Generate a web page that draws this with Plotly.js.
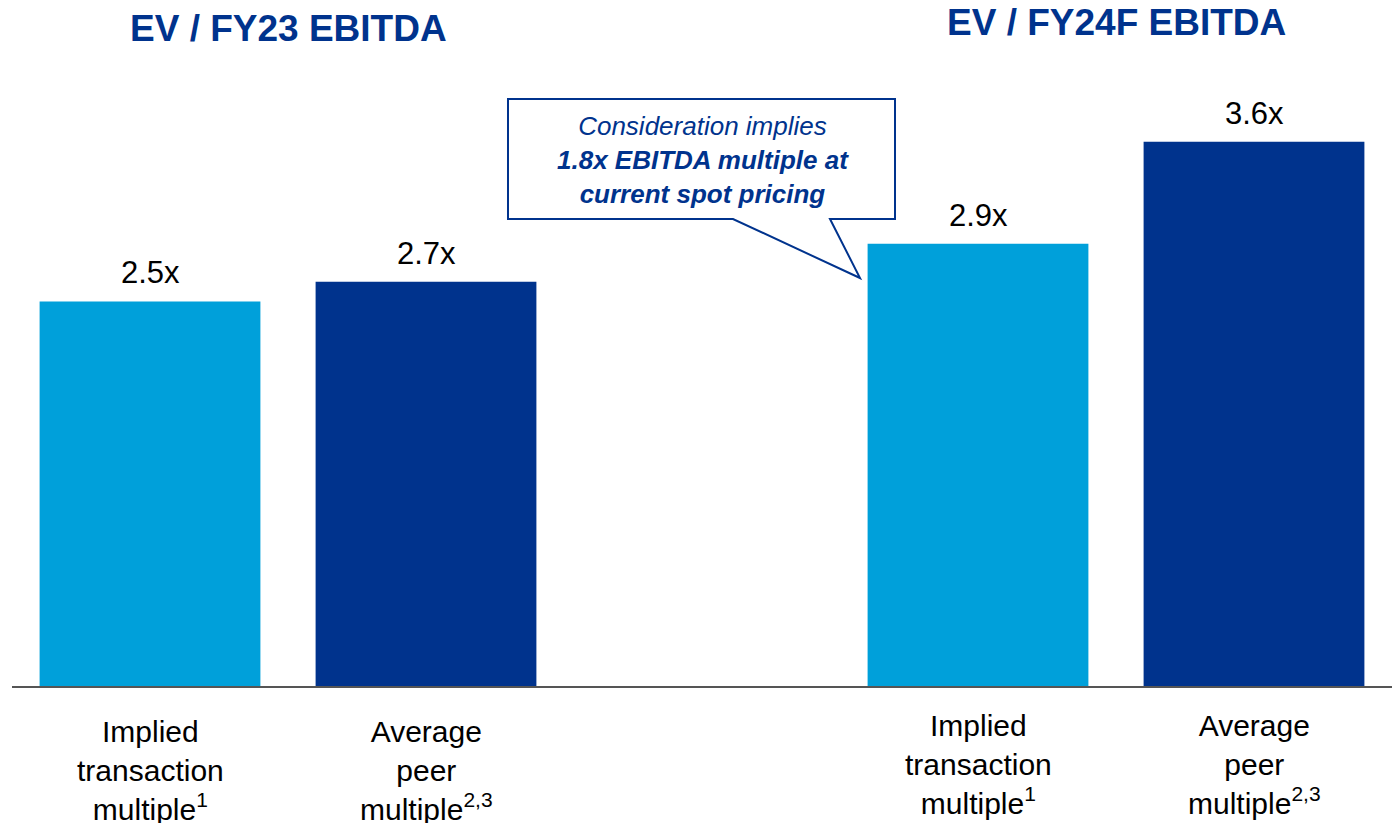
<!DOCTYPE html>
<html>
<head>
<meta charset="utf-8">
<script src="https://cdn.plot.ly/plotly-3.0.1.min.js"></script>
<style>
  html, body { margin: 0; padding: 0; background: #ffffff; }
  #chart { width: 1392px; height: 823px; }
</style>
</head>
<body>
<div id="chart"></div>
<script>
// ---- Data ----
const groupTitles = ['EV / FY23 EBITDA', 'EV / FY24F EBITDA'];
const seriesNames = ['Implied transaction multiple', 'Average peer multiple'];
const categoryLabels = [
  'Implied<br>transaction<br>multiple<sup>1</sup>',
  'Average<br>peer<br>multiple<sup>2,3</sup>'
];
const impliedValues = [2.53, 2.91];
const peerValues = [2.66, 3.58];
const calloutText = '<i>Consideration implies</i><br><b><i>1.8x EBITDA multiple at</i></b><br><b><i>current spot pricing</i></b>';

// ---- Styles ----
const LIGHT = '#00A0DA';
const DARK = '#00338D';
const FONT = 'Liberation Sans, Arial, sans-serif';
const W = 1392, H = 823;
const M = { l: 12, r: 0, t: 0, b: 137 };
const plotW = W - M.l - M.r, plotH = H - M.t - M.b;
const GROUP_STRIDE = 3;

const seriesValues = [impliedValues, peerValues];
const seriesColors = [LIGHT, DARK];

function xPos(g, s) { return g * GROUP_STRIDE + s; }
function px2paperX(px) { return (px - M.l) / plotW; }
function px2paperY(py) { return (M.t + plotH - py) / plotH; }

const traces = seriesValues.map((vals, s) => ({
  type: 'bar',
  name: seriesNames[s],
  x: vals.map((v, g) => xPos(g, s)),
  y: vals,
  width: 0.8,
  marker: { color: seriesColors[s], line: { width: 0 } },
  hoverinfo: 'skip',
  showlegend: false
}));

const annotations = [];
// value labels
seriesValues.forEach((vals, s) => {
  vals.forEach((v, g) => {
    annotations.push({
      x: xPos(g, s), y: v, xref: 'x', yref: 'y',
      text: v.toFixed(1) + 'x',
      showarrow: false, yanchor: 'bottom', yshift: 9,
      font: { family: FONT, size: 31, color: '#000000' }
    });
  });
});
// category labels
const catShift = [-27, -21];
groupTitles.forEach((t, g) => {
  categoryLabels.forEach((lab, s) => {
    annotations.push({
      x: xPos(g, s), y: 0, xref: 'x', yref: 'paper',
      text: lab, showarrow: false, yanchor: 'top', yshift: catShift[g],
      font: { family: FONT, size: 30, color: '#000000' }
    });
  });
});
// group titles
const titleShift = [-28, -22];
groupTitles.forEach((t, g) => {
  annotations.push({
    x: xPos(g, 0.5), y: 1, xref: 'x', yref: 'paper',
    text: '<b>' + t + '</b>', showarrow: false,
    yanchor: 'middle', yshift: titleShift[g],
    font: { family: FONT, size: 37, color: DARK }
  });
});
// callout text
annotations.push({
  x: px2paperX(703), y: px2paperY(160), xref: 'paper', yref: 'paper',
  text: calloutText, showarrow: false, xanchor: 'center', yanchor: 'middle',
  align: 'center',
  font: { family: FONT, size: 26, color: DARK }
});

function pathFromPx(pts) {
  return 'M' + pts.map(p => px2paperX(p[0]).toFixed(5) + ',' + px2paperY(p[1]).toFixed(5)).join(' L') + ' Z';
}
const calloutPath = pathFromPx([[508, 99], [895, 99], [895, 219], [830, 219], [860, 278], [733, 219], [508, 219]]);

const layout = {
  width: W, height: H,
  margin: M,
  paper_bgcolor: '#ffffff', plot_bgcolor: '#ffffff',
  xaxis: {
    range: [-0.5, 4.5], showgrid: false, zeroline: false,
    showticklabels: false, ticks: '',
    showline: true, linecolor: '#555555', linewidth: 2, fixedrange: true
  },
  yaxis: {
    range: [0, plotH / 152], showgrid: false, zeroline: false,
    showticklabels: false, showline: false, ticks: '', fixedrange: true
  },
  bargap: 0.2,
  annotations: annotations,
  shapes: [{
    type: 'path', xref: 'paper', yref: 'paper', path: calloutPath,
    fillcolor: '#ffffff', line: { color: DARK, width: 2 }, layer: 'above'
  }]
};

Plotly.newPlot('chart', traces, layout, { displayModeBar: false, staticPlot: true });
</script>
</body>
</html>
